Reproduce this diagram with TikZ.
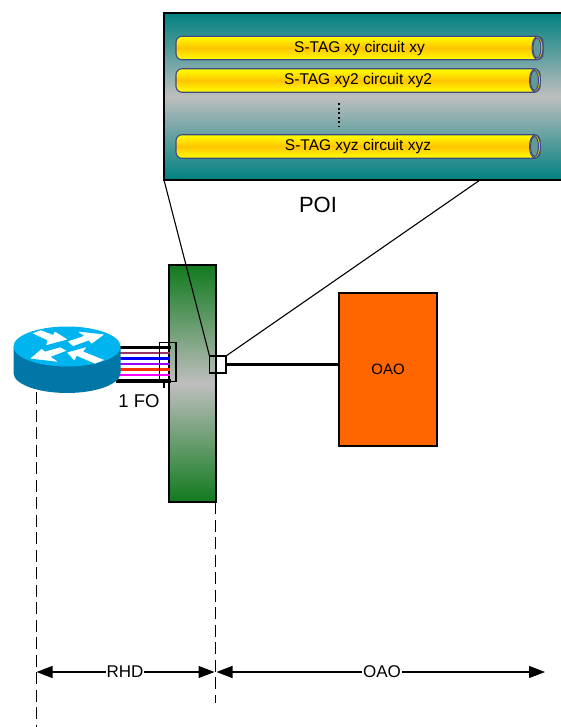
\documentclass[tikz,border=0pt]{standalone}
\usepackage{fontspec}
\setmainfont{Liberation Sans}
\usetikzlibrary{arrows.meta,shapes.geometric,calc}
\definecolor{teal1}{HTML}{008080}
\definecolor{silv}{HTML}{BEBEBE}
\definecolor{grn}{HTML}{117A1E}
\definecolor{tubeedge}{HTML}{3F4A82}
\definecolor{gold}{HTML}{FFC400}
\definecolor{orng}{HTML}{FF6600}
\definecolor{rtop}{HTML}{00B4F0}
\definecolor{rside}{HTML}{0077A6}
\tikzset{
  panelbox/.style={draw=black,line width=1.1pt,outer sep=0pt,minimum width=398pt,minimum height=167pt,inner sep=0pt,
    top color=teal1,bottom color=teal1,middle color=silv,shading angle=0},
  greenbox/.style={draw=black,line width=1.2pt,outer sep=0pt,minimum width=47pt,minimum height=237pt,inner sep=0pt,
    top color=grn,bottom color=grn,middle color=silv},
  oaobox/.style={draw=black,line width=1.1pt,outer sep=0pt,fill=orng,minimum width=98pt,minimum height=153pt,inner sep=0pt,font=\fontsize{15}{17}\selectfont},
  tube/.style={draw=tubeedge,line width=1.1pt,rounded corners=6pt,minimum height=23.5pt,inner sep=0pt,
    top color=yellow,bottom color=yellow,middle color=gold,font=\fontsize{15.5}{17}\selectfont},
  tubeouter/.style={ellipse,draw=tubeedge,line width=1pt,fill=gold!70!yellow,minimum width=11pt,minimum height=23pt,inner sep=0pt},
  tubeend/.style={ellipse,draw=tubeedge,line width=1pt,fill=gray!45!teal1!80!white,minimum width=8pt,minimum height=20pt,inner sep=0pt},
  smallbox/.style={draw=black,line width=1.1pt,outer sep=0pt,inner sep=0pt},
  fiber/.style={line width=2.2pt},
  fiberthick/.style={line width=3.4pt,black},
  zoomline/.style={black,line width=1.1pt},
  dashline/.style={black,line width=1.1pt,dash pattern=on 12pt off 5.5pt},
  dim/.style={black,line width=1.1pt,{Triangle[length=16pt,width=12pt]}-{Triangle[length=16pt,width=12pt]}},
  dimlabel/.style={fill=white,inner sep=1pt,font=\fontsize{17}{19}\selectfont},
  routerarrow/.style={fill=white,draw=white,line width=.5pt,line join=round}
}
\begin{document}
\begin{tikzpicture}[x=1pt,y=-1pt]
\useasboundingbox (0,0) rectangle (561,727);
% POI panel
\node[panelbox,anchor=north west] (poi) at (164,13) {};
\node[tube,minimum width=367pt] (t1) at (359.5,48) {S-TAG xy circuit xy};
\node[tube,minimum width=364pt] (t2) at (358,80.5) {S-TAG xy2 circuit xy2};
\node[tube,minimum width=364pt] (t3) at (358,146.5) {S-TAG xyz circuit xyz};
\node[tubeouter] (o1) at (537.5,48) {};
\node[tubeouter] (o2) at (535,80.5) {};
\node[tubeouter] (o3) at (535,146.5) {};
\node[tubeend] (e1) at (537,48) {};
\node[tubeend] (e2) at (534.5,80.5) {};
\node[tubeend] (e3) at (534.5,146.5) {};
\draw[black,line width=2pt,dash pattern=on 2pt off 2.6pt] (338.5,103) -- (338.5,127);
\node[font=\fontsize{22}{24}\selectfont] (poilabel) at (318,205) {POI};
% green box
\node[greenbox,anchor=north west] (green) at (169,265) {};
% OAO
\node[oaobox,anchor=north west] (oao) at (339,293) {OAO};
% fibers
\draw[fiberthick] (120,347.5) -- (171,347.5);
\draw[fiber,color={rgb,255:red,153;green,51;blue,102}] (120,353) -- (170,353);
\draw[fiber,blue] (120,358.5) -- (170,358.5);
\draw[fiber,color={rgb,255:red,153;green,0;blue,255}] (120,364) -- (170,364);
\draw[fiber,color={rgb,255:red,255;green,51;blue,0}] (120,369.5) -- (170,369.5);
\draw[fiber,color={rgb,255:red,255;green,0;blue,255}] (120,375) -- (170,375);
\draw[fiberthick] (116,381) -- (171,381);
% router
\fill[rside] (13.5,346.5) -- (13.5,373) arc[start angle=180,end angle=360,x radius=53.5,y radius=-20] -- (120.5,346.5) -- cycle;
\fill[rtop] (67,346.5) ellipse[x radius=53.5,y radius=20];
\begin{scope}[shift={(5,320)},x=.3333pt,y=-.3333pt]
\filldraw[routerarrow] (85,40) -- (108,32) -- (145,46) -- (150,36) -- (185,58) -- (125,74) -- (128,60) -- cycle;
\filldraw[routerarrow] (295,44) -- (260,70) -- (252,60) -- (205,77) -- (190,65) -- (240,48) -- (222,36) -- cycle;
\filldraw[routerarrow] (78,115) -- (110,88) -- (120,96) -- (165,83) -- (182,92) -- (135,110) -- (155,124) -- cycle;
\filldraw[routerarrow] (188,98) -- (242,83) -- (233,95) -- (295,120) -- (270,130) -- (215,106) -- (208,120) -- cycle;
\end{scope}
% small boxes
\node[smallbox,minimum width=16.5pt,minimum height=39.5pt,anchor=north west] (fobox) at (159.5,342.2) {};
\node[smallbox,minimum width=16.5pt,minimum height=17pt,anchor=north west] (sq) at (209.5,356) {};
\coordinate (fotick) at (164,388);
\draw[zoomline] (fobox.south west -| fotick) -- (fotick);
\node[font=\fontsize{18.5}{20}\selectfont] (fo) at (139,401) {1 FO};
% zoom lines
\draw[zoomline] (poi.south west) -- (sq.north west);
\coordinate (pz) at (480,180);
\draw[zoomline] (pz) -- (sq.north east);
% trunk
\draw[black,line width=3.4pt] (sq.east) -- (sq.east -| oao.west);
% dashed verticals
\coordinate (r1) at (36.5,392);
\coordinate (r2) at (36.5,727);
\coordinate (g1) at (215.5,502);
\coordinate (g2) at (215.5,703);
\draw[dashline] (r1) -- (r2);
\draw[dashline] (g1) -- (g2);
% dimensions
\coordinate (d1) at (36.5,672);
\coordinate (d2) at (214.5,672);
\coordinate (d3) at (216.5,672);
\coordinate (d4) at (545,672);
\draw[dim] (d1) -- (d2);
\draw[dim] (d3) -- (d4);
\node[dimlabel] (rhd) at (125,672) {RHD};
\node[dimlabel] (oaol) at (382,672) {OAO};
\end{tikzpicture}
\end{document}
